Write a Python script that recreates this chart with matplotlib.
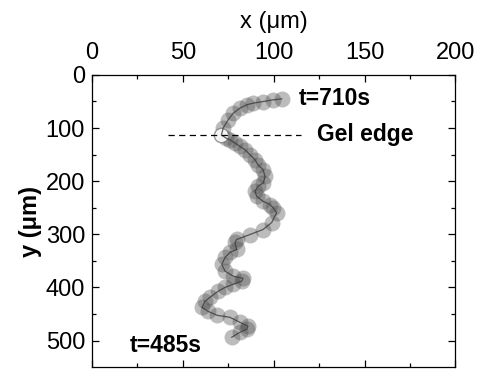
import matplotlib.pyplot as plt

plt.rcParams['font.family'] = ['Liberation Sans', 'DejaVu Sans']

# trajectory of the tracked cell, from t=485s (first) to t=710s (last)
x_um = [76.9, 81.4, 85.1, 85.8, 81.4, 75.9, 68.8, 63.8, 60.5, 62.2,
        64.9, 69.3, 73.2, 77.6, 82.4, 83.1, 77.6, 73.2, 71.4, 73.2,
        75.9, 79.6, 78.7, 79.6, 86.9, 94.1, 98.9, 101.6, 99.6, 97.9,
        94.1, 90.6, 89.7, 91.3, 94.3, 95.2, 94.1, 91.3, 89.7, 86.9,
        84.2, 81.4, 78.7, 75.9, 74.0, 71.2, 72.2, 75.0, 77.7, 81.4,
        85.1, 88.7, 94.2, 99.7, 104.4]
y_um = [493.7, 484.3, 478.7, 473.1, 465.6, 456.2, 452.4, 444.9, 437.4, 426.1,
        418.6, 407.4, 399.9, 394.2, 388.0, 382.9, 378.6, 369.3, 356.7, 343.5,
        334.1, 328.5, 315.3, 309.7, 300.4, 291.0, 277.8, 259.1, 249.7, 244.0,
        237.8, 228.5, 219.1, 209.7, 203.3, 190.9, 178.3, 169.0, 159.6, 150.2,
        140.8, 134.6, 128.2, 122.0, 119.5, 113.0, 100.0, 84.0, 72.0, 62.5,
        56.3, 53.1, 50.1, 46.9, 45.1]
crossing_idx = 45  # point sitting on the gel edge

gel_edge_y = 113.5
gel_edge_x = [42, 115]

fig = plt.figure(figsize=(4.83, 3.69), dpi=100)
ax = fig.add_axes([0.1905, 0.005, 0.7525, 0.792])

ax.plot(x_um, y_um, 'o', ms=11.5, color='#505050', alpha=0.38, mec='none', zorder=2)
ax.plot(x_um[crossing_idx], y_um[crossing_idx], 'o', ms=10, mfc='#f4f4f4',
        mec='#888888', mew=0.6, zorder=3)
ax.plot(x_um, y_um, '-', color='#3a3a3a', lw=0.9, alpha=0.8, zorder=4)

ax.plot(gel_edge_x, [gel_edge_y, gel_edge_y], '--', color='black', lw=0.9,
        dashes=(5, 3.5), zorder=5)

ax.text(114, 45, 't=710s', fontsize=16.5, fontweight='bold', va='center', ha='left')
ax.text(124, 113, 'Gel edge', fontsize=16.5, fontweight='bold', va='center', ha='left')
ax.text(21, 510, 't=485s', fontsize=16.5, fontweight='bold', va='center', ha='left')

ax.set_xlim(0, 200)
ax.set_ylim(550, 0)
ax.set_xticks([0, 50, 100, 150, 200])
ax.set_xticks([25, 75, 125, 175], minor=True)
ax.set_yticks([0, 100, 200, 300, 400, 500])
ax.set_yticks([50, 150, 250, 350, 450], minor=True)
ax.xaxis.tick_top()
ax.xaxis.set_label_position('top')
ax.tick_params(which='both', direction='in', top=True, bottom=True,
               left=True, right=True, labelsize=17, width=0.9)
ax.tick_params(axis='x', pad=8)
ax.tick_params(axis='y', pad=5)
ax.tick_params(which='major', length=5)
ax.tick_params(which='minor', length=3)
ax.set_xlabel('x (\u03bcm)', fontsize=17, labelpad=10)
ax.set_ylabel('y (\u03bcm)', fontsize=17, fontweight='bold', labelpad=3)
for s in ax.spines.values():
    s.set_linewidth(0.9)

fig.savefig('out.png', dpi=100)
